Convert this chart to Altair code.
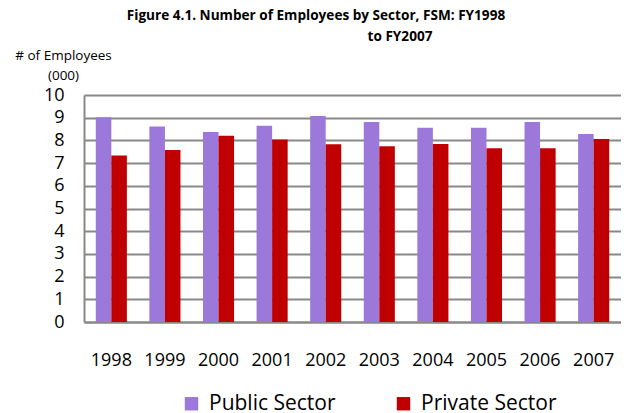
import altair as alt
import pandas as pd

years = ["1998", "1999", "2000", "2001", "2002", "2003", "2004", "2005", "2006", "2007"]
public_sector = [9.02, 8.61, 8.37, 8.64, 9.08, 8.81, 8.56, 8.56, 8.81, 8.28]
private_sector = [7.33, 7.58, 8.20, 8.04, 7.83, 7.74, 7.84, 7.65, 7.65, 8.06]
sectors = ["Public Sector", "Private Sector"]
colors = ["#9B78DA", "#C00000"]
title_line1 = "Figure 4.1. Number of Employees by Sector, FSM: FY1998"
title_line2 = "to FY2007"
y_title = ["# of Employees", "(000)"]

rows = []
for i, yr in enumerate(years):
    rows.append({"year": yr, "sector": sectors[0], "value": public_sector[i]})
    rows.append({"year": yr, "sector": sectors[1], "value": private_sector[i]})
df = pd.DataFrame(rows)

FONT = "Open Sans"

bars = alt.Chart(df).mark_bar().encode(
    x=alt.X("year:N", sort=years,
            scale=alt.Scale(paddingInner=0.42, paddingOuter=0.22),
            axis=alt.Axis(title=None, labelAngle=0, labelFont=FONT, labelFontSize=18,
                          labelColor="#000000", labelPadding=29, ticks=False,
                          domainColor="#888888", domainWidth=2, grid=False)),
    xOffset=alt.XOffset("sector:N", sort=sectors),
    y=alt.Y("value:Q",
            scale=alt.Scale(domain=[0, 10], nice=False),
            axis=alt.Axis(values=list(range(0, 11)), title=y_title, titleAngle=0,
                          titleFont=FONT, titleFontSize=13.5, titleFontWeight="normal",
                          titleColor="#000000", titleAlign="center", titleBaseline="bottom",
                          titleX=-21, titleY=-33, titleLineHeight=20,
                          labelFont=FONT, labelFontSize=18, labelColor="#000000",
                          labelPadding=20, ticks=False, domainColor="#888888", domainWidth=2,
                          gridColor="#888888", gridWidth=2)),
    color=alt.Color("sector:N",
                    scale=alt.Scale(domain=sectors, range=colors),
                    legend=alt.Legend(title=None, orient="none", direction="horizontal",
                                      legendX=97, legendY=298, symbolType="square",
                                      symbolSize=180, symbolStrokeWidth=0,
                                      labelFont=FONT, labelFontSize=21, labelColor="#000000",
                                      labelOffset=7, columnPadding=57)),
)

t1 = alt.Chart(alt.Data(values=[{"a": 1}])).mark_text(
    text=title_line1, font=FONT, fontSize=13.6, fontWeight="bold", color="#000000",
    align="center", baseline="middle"
).encode(x=alt.value(232), y=alt.value(-79))

t2 = alt.Chart(alt.Data(values=[{"a": 1}])).mark_text(
    text=title_line2, font=FONT, fontSize=13.6, fontWeight="bold", color="#000000",
    align="center", baseline="middle"
).encode(x=alt.value(316), y=alt.value(-58))

chart = alt.layer(bars, t1, t2).properties(
    width=537, height=227,
    autosize=alt.AutoSizeParams(type="none"),
    padding={"left": 76, "top": 87, "right": 0, "bottom": 91},
).configure_view(stroke=None)

chart.save("out.html", embed_options={"renderer": "svg", "actions": False})
